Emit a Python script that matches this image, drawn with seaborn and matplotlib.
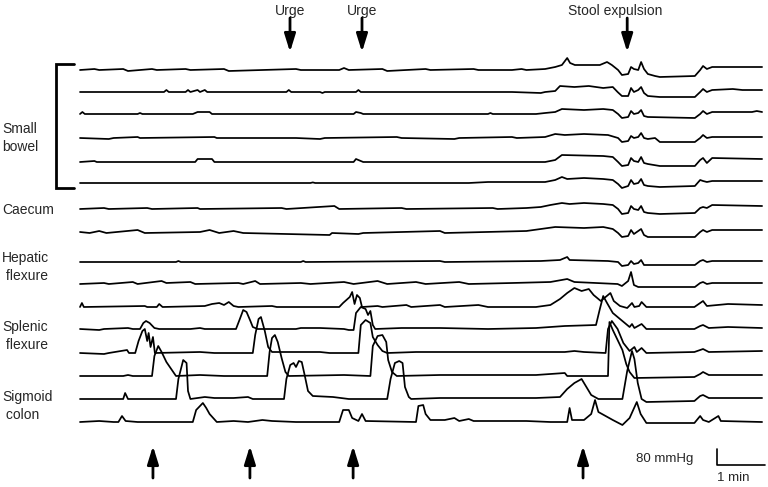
"""Colonic manometry traces around urge and stool expulsion."""
import matplotlib
matplotlib.use("Agg")
import matplotlib.pyplot as plt
import pandas as pd
import seaborn as sns

# ---- data: (time in min, pressure in mmHg) ----
small_bowel_1 = [(0, 0), (0.3, 5), (0.4, 0), (0.9, 5), (1.0, -5), (1.5, 5), (1.6, 0), (2.2, 5), (2.3, 0),
                 (3.0, 5), (3.1, -5), (3.8, 0), (4.5, 5), (4.6, 0), (5.4, 0), (5.5, 10), (5.6, 0), (6.3, 5),
                 (6.4, -5), (7.2, 5), (7.3, 0), (8.2, 5), (8.3, 0), (9.0, 0), (9.2, 5), (9.3, 0), (9.69, 5),
                 (9.9, 15), (10.04, 25), (10.15, 60), (10.21, 35), (10.31, 25), (10.83, 25), (10.98, 40),
                 (11.08, 25), (11.21, 0), (11.29, -25), (11.42, -20), (11.48, 15), (11.54, 5), (11.63, 0),
                 (11.69, 40), (11.75, 5), (11.83, -20), (11.98, -30), (12.08, -35), (12.81, -30), (12.92, 0),
                 (12.98, 20), (13.06, 5), (13.17, 15), (14.21, 15)]
small_bowel_2 = [(0, 0), (1.75, 0), (1.8, 10), (1.85, 0), (2.2, 0), (2.25, 10), (2.3, 0), (2.45, 10), (2.5, 0),
                 (2.6, 10), (2.65, 0), (4.3, 0), (4.35, 10), (4.4, 0), (5.0, 0), (5.05, -5), (5.1, 0), (5.75, 0),
                 (5.8, 10), (5.85, 0), (9.0, 0), (9.6, -5), (9.69, 0), (9.9, 5), (10.0, 30), (10.3, 25),
                 (10.6, 30), (10.9, 20), (11.1, 25), (11.2, 0), (11.29, -20), (11.42, -20), (11.48, 20),
                 (11.54, 0), (11.63, 10), (11.69, 25), (11.75, -5), (11.83, -20), (12.08, -25), (12.81, -25),
                 (12.92, 0), (12.98, 15), (13.06, 0), (13.17, 10), (13.6, 15), (13.8, 10), (14.21, 10)]
small_bowel_3 = [(0, 0), (0.05, 10), (0.1, 0), (1.2, 0), (1.25, 5), (1.3, 0), (2.35, 0), (2.45, 10), (2.7, 10),
                 (2.75, 0), (5.7, 0), (5.75, 10), (5.85, 5), (5.9, 0), (8.5, 0), (8.55, 5), (8.6, 0), (9.5, 0),
                 (9.69, 5), (9.9, 10), (10.04, 25), (10.5, 20), (10.9, 25), (11.1, 20), (11.21, 0),
                 (11.29, -20), (11.42, -15), (11.48, 15), (11.54, 0), (11.63, 5), (11.69, 20), (11.75, -10),
                 (11.83, -15), (12.81, -20), (12.92, 0), (12.98, 15), (13.06, 0), (13.17, 10), (14.0, 10),
                 (14.1, 15), (14.21, 10)]
small_bowel_4 = [(0, 0), (0.6, -5), (0.7, 0), (1.2, 5), (1.25, 0), (2.8, 5), (2.85, 0), (4.5, 0), (5.0, -5),
                 (5.1, 0), (6.6, 5), (6.7, 0), (7.8, -5), (7.9, 0), (9.0, 5), (9.1, 0), (9.69, 5), (9.9, 20),
                 (10.1, 15), (10.5, 20), (11.0, 15), (11.21, 0), (11.29, -20), (11.42, -15), (11.48, 10),
                 (11.54, 0), (11.63, 5), (11.69, 25), (11.75, 0), (11.83, -5), (11.98, 0), (12.08, -20),
                 (12.81, -20), (12.92, 0), (12.98, 15), (13.06, 0), (13.17, 5), (14.21, 5)]
small_bowel_5 = [(0, 0), (0.3, 5), (0.35, 0), (2.4, 0), (2.45, 15), (2.75, 15), (2.8, 0), (5.7, 0), (5.75, 15),
                 (5.9, 0), (9.69, 0), (9.9, 10), (10.04, 35), (10.9, 30), (11.1, 25), (11.21, 0), (11.29, -20),
                 (11.42, -15), (11.48, 20), (11.54, 5), (11.63, 0), (11.69, 25), (11.75, -5), (11.83, -10),
                 (12.08, -20), (12.81, -20), (12.92, 10), (12.98, 20), (13.06, -5), (13.17, 20), (14.21, 15)]
small_bowel_6 = [(0, 0), (4.8, 0), (4.85, 3), (4.9, 0), (8.1, 0), (8.5, 5), (8.8, 5), (9.3, 5), (9.69, 5),
                 (9.9, 15), (10.04, 30), (10.15, 20), (10.5, 25), (10.9, 20), (11.1, 15), (11.21, -5),
                 (11.29, -25), (11.42, -15), (11.48, 15), (11.54, -5), (11.63, 0), (11.69, 20), (11.75, -10),
                 (11.83, -15), (12.08, -20), (12.81, -15), (12.92, 15), (12.98, 10), (13.06, 5), (13.17, 10),
                 (14.21, 10)]
caecum_1 = [(0, 0), (0.5, 5), (0.6, 0), (1.4, 5), (1.5, 0), (2.45, 5), (2.5, 0), (4.2, 5), (4.3, 0), (5.3, 15),
            (5.4, 0), (6.7, 5), (6.8, 0), (8.6, 5), (8.7, 0), (9.3, 5), (9.6, 10), (9.8, 20), (10.04, 30),
            (10.2, 25), (10.5, 30), (10.9, 25), (11.1, 20), (11.21, 0), (11.29, -25), (11.42, -20), (11.48, 15),
            (11.54, 0), (11.63, -5), (11.69, 15), (11.75, -15), (11.83, -20), (12.08, -25), (12.81, -20),
            (12.92, 5), (12.98, 10), (13.06, 5), (13.17, 20), (14.21, 15)]
caecum_2 = [(0, 5), (0.2, 0), (0.4, 10), (0.55, 0), (1.2, 15), (1.35, 0), (2.5, 5), (2.7, 15), (2.9, 0),
            (3.2, 10), (3.4, 0), (5.2, -10), (5.25, 0), (5.8, -5), (5.9, 0), (7.5, 10), (7.6, 0), (9.3, 10),
            (9.6, 20), (9.9, 30), (10.5, 25), (10.9, 30), (11.1, 20), (11.21, 0), (11.29, -20), (11.42, -15),
            (11.48, 15), (11.54, -5), (11.63, 10), (11.69, 20), (11.75, -10), (11.83, -20), (12.81, -20),
            (12.92, 5), (12.98, 15), (13.06, 5), (13.17, 15), (14.21, 15)]
hepatic_1 = [(0, 0), (2.0, 0), (2.05, 5), (2.1, 0), (4.6, 0), (4.65, 5), (4.7, 0), (7.5, 5), (7.6, 0),
             (9.6, 5), (10.0, 10), (10.15, 25), (10.2, 10), (11.0, 5), (11.21, 0), (11.29, -20),
             (11.42, -15), (11.48, 5), (11.54, -10), (11.63, -5), (11.69, 10), (11.75, -15), (12.81, -15),
             (12.92, 5), (12.98, 10), (13.06, 0), (13.17, 5), (14.21, 5)]
hepatic_2 = [(0, 0), (0.5, 5), (0.6, 0), (1.1, 10), (1.2, 0), (1.7, 15), (1.8, 5), (2.3, 10), (2.4, 0),
             (3.3, 5), (3.4, 0), (3.65, 15), (3.75, 0), (4.6, 5), (4.8, 0), (5.5, 10), (5.7, 0), (6.2, 15),
             (6.4, 0), (7.0, 10), (7.2, 0), (7.9, 10), (8.1, 0), (9.0, 5), (9.8, 10), (10.15, 25),
             (10.3, 10), (11.2, 0), (11.29, -10), (11.42, 15), (11.48, 60), (11.54, -5), (11.63, -15),
             (12.81, -15), (12.92, 5), (12.98, 10), (13.06, 0), (13.17, 5), (14.21, 5)]
transverse = [(0, 0), (0.04, 20), (0.08, 0), (1.35, 5), (1.4, 0), (1.6, 0), (1.65, 15), (1.72, 0), (2.6, 5),
              (2.75, 15), (2.9, 20), (3.0, 10), (3.1, 25), (3.2, 5), (3.3, 0), (4.0, 5), (4.1, 0), (5.4, 0),
              (5.48, 20), (5.55, 35), (5.62, 50), (5.67, 75), (5.72, 15), (5.77, 60), (5.83, 45), (5.875, 0),
              (6.2, 5), (6.3, 0), (6.8, 10), (6.9, 0), (7.5, 10), (7.6, 0), (8.3, 10), (8.5, 0), (9.5, 0),
              (9.8, 10), (10.0, 40), (10.15, 70), (10.3, 95), (10.45, 80), (10.6, 90), (10.7, 60),
              (10.85, 30), (10.95, 50), (11.05, 70), (11.12, 30), (11.25, 5), (11.4, -5), (11.5, 20),
              (11.55, 0), (11.65, 5), (11.7, 25), (11.8, 0), (12.8, 0), (12.92, 20), (12.98, 30),
              (13.06, 5), (13.5, 15), (14.21, 10)]
splenic_1 = [(0, 0), (0.4, -5), (0.5, 0), (1.0, 5), (1.1, 0), (1.25, 0), (1.32, 30), (1.375, 40), (1.45, 30),
             (1.55, 5), (1.65, 0), (2.3, 0), (2.5, 5), (2.6, 0), (3.25, 0), (3.33, 50), (3.4, 95), (3.47, 85),
             (3.55, 40), (3.6, 10), (3.7, 0), (4.5, 0), (4.6, 5), (5.0, 5), (5.5, 0), (5.6, -5), (5.7, -5),
             (5.75, 80), (5.85, 110), (5.95, 100), (6.0, 70), (6.05, 90), (6.1, 20), (6.15, 0), (6.7, 5),
             (7.5, 5), (8.5, 0), (9.5, 5), (9.8, 10), (10.1, 15), (10.75, 20), (10.83, 100), (10.9, 165),
             (10.98, 130), (11.1, 80), (11.3, 40), (11.45, 10), (11.5, 25), (11.55, 5), (11.7, 25), (11.8, 0),
             (12.8, 0), (12.92, 15), (12.98, 20), (13.1, 5), (13.5, 10), (14.21, 5)]
splenic_2 = [(0, 0), (0.5, -5), (0.6, 0), (0.98, 15), (1.02, 0), (1.15, 0), (1.22, 60), (1.3, 110),
             (1.35, 120), (1.4, 60), (1.43, 100), (1.47, 30), (1.52, 80), (1.56, 0), (2.5, 5), (2.8, 0),
             (3.6, 0), (3.65, 90), (3.72, 170), (3.77, 180), (3.85, 110), (3.92, 30), (4.0, 5), (5.0, 5),
             (5.2, 0), (5.8, 0), (5.85, 140), (5.95, 165), (6.05, 150), (6.1, 80), (6.2, 40), (6.3, 10),
             (6.4, 0), (7.0, 5), (8.0, 5), (9.5, 5), (10.1, 5), (10.3, 10), (10.5, 5), (10.95, 0),
             (11.0, 120), (11.08, 160), (11.2, 120), (11.32, 50), (11.45, 10), (11.55, 30), (11.6, 5),
             (11.7, 25), (11.8, 0), (12.8, 5), (12.92, 15), (12.98, 20), (13.1, 5), (14.21, 10)]
descending = [(0, 0), (0.9, 0), (1.0, 5), (1.1, 0), (1.5, 0), (1.55, 100), (1.63, 150), (1.7, 120),
              (1.8, 70), (1.9, 35), (2.0, 0), (2.5, 5), (3.0, 0), (3.9, 0), (3.95, 120), (4.0, 190),
              (4.06, 205), (4.12, 170), (4.2, 90), (4.28, 20), (4.35, 0), (5.5, 5), (6.05, 0), (6.1, 150),
              (6.2, 200), (6.3, 205), (6.38, 170), (6.42, 80), (6.5, 20), (6.6, 0), (7.5, 5), (8.5, 5),
              (9.5, 5), (10.1, 15), (10.15, 0), (11.0, 0), (11.03, 270), (11.1, 230), (11.2, 180),
              (11.3, 130), (11.38, 60), (11.45, 20), (11.55, -10), (12.8, -5), (12.92, 10), (12.98, 20),
              (13.1, 5), (14.21, 5)]
sigmoid_1 = [(0, 0), (0.9, 0), (0.94, 30), (1.0, 0), (2.0, 0), (2.05, 100), (2.15, 195), (2.22, 180),
             (2.25, 40), (2.3, 0), (2.6, 10), (2.8, 5), (3.2, 5), (3.5, 10), (3.6, 0), (4.25, 0), (4.3, 100),
             (4.38, 170), (4.45, 180), (4.5, 160), (4.56, 190), (4.62, 185), (4.68, 120), (4.75, 40),
             (4.85, 15), (5.27, 10), (5.6, 0), (6.4, 0), (6.47, 100), (6.56, 180), (6.65, 190), (6.72, 180),
             (6.77, 60), (6.85, 10), (6.9, 0), (7.5, 5), (8.5, 5), (9.5, 5), (10.0, 10), (10.15, 50),
             (10.3, 80), (10.45, 100), (10.55, 60), (10.65, 20), (10.8, 0), (11.3, 0), (11.4, 140),
             (11.5, 240), (11.55, 200), (11.62, 80), (11.7, 0), (11.8, -15), (12.8, -10), (12.92, 15),
             (12.98, 20), (13.1, 5), (14.21, 5)]
sigmoid_2 = [(0, 0), (0.4, 5), (0.7, 0), (0.8, 0), (0.875, 30), (0.95, 5), (1.2, 0), (2.35, 0), (2.42, 60),
             (2.5, 80), (2.56, 95), (2.63, 70), (2.7, 40), (2.85, 0), (3.2, 5), (3.5, 0), (3.8, 10), (4.0, 5),
             (4.5, 0), (5.4, 0), (5.48, 60), (5.6, 60), (5.67, 20), (5.8, 5), (5.875, 40), (5.95, 5),
             (7.0, 0), (7.05, 80), (7.15, 85), (7.2, 40), (7.3, 10), (7.6, 10), (7.8, 20), (7.9, 5),
             (8.1, 15), (8.2, 5), (9.3, 5), (9.8, 0), (10.15, 0), (10.2, 70), (10.25, 10), (10.5, 10),
             (10.65, 40), (10.73, 110), (10.8, 50), (11.1, 10), (11.3, -15), (11.45, 20), (11.6, 100),
             (11.68, 40), (11.8, -5), (12.8, -5), (12.92, 30), (12.98, 10), (13.1, 0), (13.3, 30),
             (13.35, 5), (14.21, 0)]

channels = [small_bowel_1, small_bowel_2, small_bowel_3, small_bowel_4, small_bowel_5, small_bowel_6,
            caecum_1, caecum_2, hepatic_1, hepatic_2, transverse, splenic_1, splenic_2, descending,
            sigmoid_1, sigmoid_2]

# event markers (min)
urge_times = [4.375, 5.875]
expulsion_time = 11.4
hapc_times = [1.52, 3.54, 5.69, 10.48]

region_labels = ["Small\nbowel", "Caecum", "Hepatic\n flexure", "Splenic\n flexure", "Sigmoid\n colon"]

# ---- layout: figure is mapped 1:1 to pixels of the original ----
PX_PER_MIN = 48.0
MMHG_PER_PX = 5.0
X0_PX = 80
channel_base_px = [70, 92, 114, 138, 162, 183, 209, 233, 262, 284, 307, 329, 353, 376, 399, 422]
label_pos_px = [(2, 138), (2, 210), (2, 267), (2, 336), (2, 406)]


def xd(px):
    return (px - X0_PX) / PX_PER_MIN


def yd(py):
    return -py * MMHG_PER_PX


rows = []
for i, (trace, base) in enumerate(zip(channels, channel_base_px)):
    for t, p in trace:
        rows.append({"channel": i, "time": t, "y": yd(base) + p})
df = pd.DataFrame(rows)

sns.set_theme(style="white")
plt.rcParams["font.family"] = ["Liberation Sans", "DejaVu Sans"]

fig = plt.figure(figsize=(7.68, 4.87), dpi=100)
ax = fig.add_axes([0, 0, 1, 1])
sns.lineplot(data=df, x="time", y="y", units="channel", estimator=None, sort=False,
             color="black", linewidth=1.25, legend=False, ax=ax)

ax.set_xlim(xd(0), xd(768))
ax.set_ylim(yd(487), yd(0))
ax.axis("off")

# region labels + small-bowel bracket
for text, (px, py) in zip(region_labels, label_pos_px):
    ax.text(xd(px), yd(py), text, ha="left", va="center", fontsize=10, linespacing=1.45)
ax.plot([xd(74), xd(56), xd(56), xd(74)], [yd(64), yd(64), yd(188), yd(188)],
        color="black", lw=2, solid_joinstyle="miter")

# arrows
arrow_kw = dict(arrowstyle="-|>,head_length=0.9,head_width=0.28", color="black", lw=2,
                shrinkA=0, shrinkB=0)
for t in urge_times:
    ax.annotate("", xy=(t, yd(52)), xytext=(t, yd(18)), arrowprops=arrow_kw)
    ax.text(t, yd(11), "Urge", ha="center", va="center", fontsize=10)
ax.annotate("", xy=(expulsion_time, yd(52)), xytext=(expulsion_time, yd(18)), arrowprops=arrow_kw)
ax.text(expulsion_time - 0.25, yd(11), "Stool expulsion", ha="center", va="center", fontsize=10)
for t in hapc_times:
    ax.annotate("", xy=(t, yd(446)), xytext=(t, yd(478)), arrowprops=arrow_kw)

# scale bar: 80 mmHg x 1 min
sx, sy = xd(717), yd(465)
ax.plot([sx, sx, sx + 1], [sy + 80, sy, sy], color="black", lw=1.2)
ax.text(xd(693), yd(459), "80 mmHg", ha="right", va="center", fontsize=9.5)
ax.text(sx, yd(478), "1 min", ha="left", va="center", fontsize=9.5)

fig.savefig("out.png", dpi=100)
plt.close(fig)
